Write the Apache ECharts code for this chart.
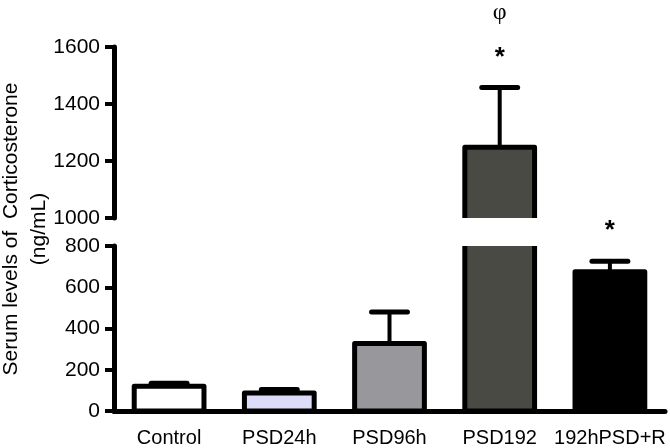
<!DOCTYPE html>
<html>
<head>
<meta charset="utf-8">
<script src="https://cdn.jsdelivr.net/npm/echarts@6/dist/echarts.min.js"></script>
<style>
  html, body { margin: 0; padding: 0; background: #fff; }
  #chart { width: 670px; height: 448px; }
</style>
</head>
<body>
<div id="chart"></div>
<script>
const categories = ['Control', 'PSD24h', 'PSD96h', 'PSD192', '192hPSD+R'];
const means = [120, 87, 327, 1248, 675];
const errors = [14, 17, 153, 210, 51];
const stars = ['', '', '', '*', '*'];
const phis = ['', '', '', 'φ', ''];

const barColors = ['#ffffff', '#dcdcf8', '#98989c', '#4a4a44', '#000000'];
const font = '"Liberation Sans", Arial, sans-serif';

const chart = echarts.init(document.getElementById('chart'));

const barData = categories.map((c, i) => [i, means[i]]);
const errData = categories.map((c, i) => [i, means[i], means[i] + errors[i]]);

// bar = filled rect with thick black outline, clipped by its grid (gives the axis break)
function renderBar(params, api) {
  const i = api.value(0);
  const top = api.coord([i, api.value(1)]);
  const base = api.coord([i, 0]);
  const w = api.size([1, 0])[0] * 0.633;
  return {
    type: 'rect',
    shape: { x: top[0] - w / 2, y: top[1], width: w, height: base[1] - top[1] },
    style: { fill: barColors[i], stroke: '#000', lineWidth: 5, lineJoin: 'round' }
  };
}

function renderErr(params, api) {
  const i = api.value(0);
  const lo = api.coord([i, api.value(1)]);
  const hi = api.coord([i, api.value(2)]);
  const half = api.size([1, 0])[0] * 0.163;
  return {
    type: 'group',
    children: [
      { type: 'line', shape: { x1: lo[0], y1: lo[1], x2: hi[0], y2: hi[1] }, style: { stroke: '#000', lineWidth: 4 } },
      { type: 'line', shape: { x1: hi[0] - half, y1: hi[1], x2: hi[0] + half, y2: hi[1] }, style: { stroke: '#000', lineWidth: 5, lineCap: 'round' } }
    ]
  };
}

function yAxis(gridIndex, min, max) {
  return {
    gridIndex: gridIndex,
    type: 'value',
    min: min,
    max: max,
    interval: 200,
    axisLine: { show: true, lineStyle: { color: '#000', width: 5 } },
    axisTick: { show: true, length: 9, lineStyle: { color: '#000', width: 4 } },
    axisLabel: { color: '#000', fontSize: 21, fontFamily: font, margin: 14, formatter: (v) => String(v) },
    splitLine: { show: false }
  };
}

chart.setOption({
  animation: false,
  grid: [
    { left: 114, right: 5, top: 47, height: 171 },
    { left: 114, right: 5, top: 246, height: 170 }
  ],
  xAxis: [
    { gridIndex: 0, type: 'category', data: categories, show: false },
    {
      gridIndex: 1,
      type: 'category',
      data: categories,
      axisLine: { lineStyle: { color: '#000', width: 5 } },
      axisTick: { show: false },
      axisLabel: { color: '#000', fontSize: 20, fontFamily: font, margin: 17, interval: 0 }
    }
  ],
  yAxis: [yAxis(0, 1000, 1600), yAxis(1, 0, 800)],
  series: [
    { type: 'custom', xAxisIndex: 0, yAxisIndex: 0, data: errData, renderItem: renderErr, clip: true, z: 1 },
    { type: 'custom', xAxisIndex: 1, yAxisIndex: 1, data: errData, renderItem: renderErr, clip: true, z: 1 },
    { type: 'custom', xAxisIndex: 0, yAxisIndex: 0, data: barData, renderItem: renderBar, clip: true, z: 2 },
    { type: 'custom', xAxisIndex: 1, yAxisIndex: 1, data: barData, renderItem: renderBar, clip: true, z: 2 }
  ]
});

const graphics = [
  {
    type: 'text', x: 11, y: 229, rotation: Math.PI / 2,
    style: { text: 'Serum levels of  Corticosterone', fill: '#000', font: '21px ' + font, align: 'center', verticalAlign: 'middle' }
  },
  {
    type: 'text', x: 39, y: 229, rotation: Math.PI / 2,
    style: { text: '(ng/mL)', fill: '#000', font: '21px ' + font, align: 'center', verticalAlign: 'middle' }
  }
];

categories.forEach((c, i) => {
  const g = means[i] > 1000 ? 0 : 1;
  const p = chart.convertToPixel({ xAxisIndex: g, yAxisIndex: g }, [i, means[i] + errors[i]]);
  if (stars[i]) {
    graphics.push({
      type: 'text', x: p[0], y: p[1] - 30,
      style: { text: stars[i], fill: '#000', font: 'bold 26px ' + font, align: 'center', verticalAlign: 'middle' }
    });
  }
  if (phis[i]) {
    graphics.push({
      type: 'text', x: p[0], y: p[1] - 75,
      style: { text: phis[i], fill: '#000', font: '24px "Liberation Serif", "Times New Roman", serif', align: 'center', verticalAlign: 'middle' }
    });
  }
});

chart.setOption({ graphic: graphics });
</script>
</body>
</html>
